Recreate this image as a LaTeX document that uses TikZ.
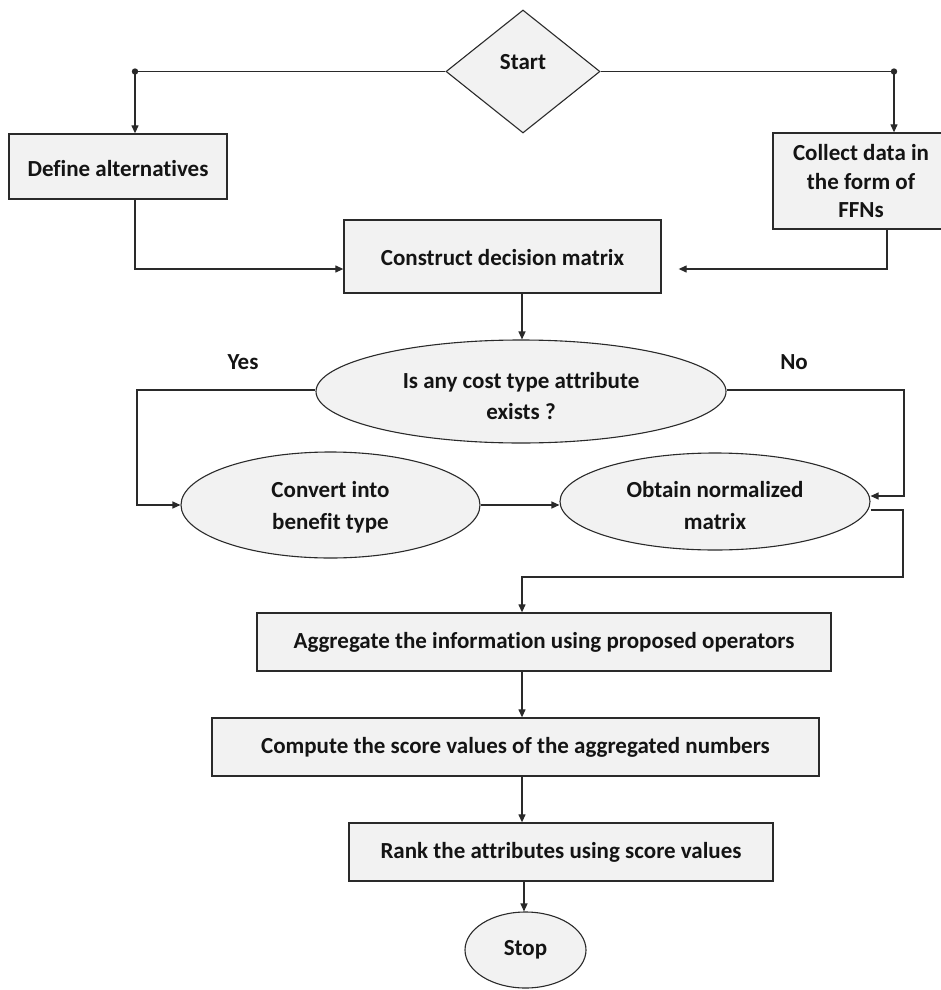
\documentclass[tikz,border=0pt]{standalone}
\usepackage{fontspec}
\setmainfont{Carlito}[Ligatures=CommonOff]
\usetikzlibrary{shapes.geometric,arrows.meta}
\definecolor{boxfill}{HTML}{F2F2F2}
\definecolor{edge}{HTML}{2A2A2A}
\newcommand{\shiftv}[2]{\raisebox{#1}[\height][\depth]{#2}}
\begin{document}
\begin{tikzpicture}[x=1pt,y=-1pt,
  every node/.style={font=\fontsize{23}{28.5}\selectfont\bfseries, text=black!92},
  boxnode/.style={draw=edge, fill=boxfill, line width=1.3pt, rectangle, inner sep=0pt, align=center},
  ellnode/.style={draw=edge, fill=boxfill, line width=1.1pt, ellipse, inner sep=0pt, align=center},
  dianode/.style={draw=edge, fill=boxfill, line width=1.1pt, diamond, inner sep=0pt},
  conn/.style={draw=edge, line width=1.2pt},
  arr/.style={conn, -{Triangle[length=8pt,width=7pt]}},
  lbl/.style={inner sep=0pt}
]
\useasboundingbox (0,0) rectangle (940,990);

% nodes
\node[dianode, minimum width=154pt, minimum height=123pt] (start) at (523,71.5) {\shiftv{9pt}{Start}};
\node[boxnode, minimum width=218pt, minimum height=65pt] (defalt) at (118,166.5) {\shiftv{-2pt}{Define alternatives}};
\node[boxnode, minimum width=176pt, minimum height=96pt] (collect) at (861,181) {\shiftv{-2.5pt}{\begin{tabular}{@{}c@{}}Collect data in\\the form of\\FFNs\end{tabular}}};
\node[boxnode, minimum width=317pt, minimum height=73pt] (construct) at (502.5,256.5) {\shiftv{-1pt}{Construct decision matrix}};
\node[ellnode, minimum width=410pt, minimum height=103pt] (isany) at (521,391.5) {\shiftv{-6.5pt}{\begin{tabular}{@{}c@{}}Is any cost type attribute\\[2.5pt]exists ?\end{tabular}}};
\node[ellnode, minimum width=299pt, minimum height=106pt] (convert) at (330.5,505) {\shiftv{-3pt}{\begin{tabular}{@{}c@{}}Convert into\\[3.5pt]benefit type\end{tabular}}};
\node[ellnode, minimum width=310pt, minimum height=97pt] (obtain) at (715,501.5) {\shiftv{-6.5pt}{\begin{tabular}{@{}c@{}}Obtain normalized\\[3.5pt]matrix\end{tabular}}};
\node[boxnode, minimum width=574pt, minimum height=58pt] (aggregate) at (544,642) {Aggregate the information using proposed operators};
\node[boxnode, minimum width=607pt, minimum height=58pt] (compute) at (515.5,747) {Compute the score values of the aggregated numbers};
\node[boxnode, minimum width=424pt, minimum height=58pt] (rank) at (561,852) {Rank the attributes using score values};
\node[ellnode, minimum width=121pt, minimum height=76pt] (stop) at (525.5,950) {Stop};

\node[lbl] (yes) at (243,362) {Yes};
\node[lbl] (no) at (794,362) {No};

% junctions
\coordinate (dL) at (135,71.5);
\coordinate (dR) at (894,71.5);
\coordinate (jA) at (135,269);
\coordinate (jB) at (887,269);
\coordinate (jY1) at (137,390);
\coordinate (jY2) at (137,505);
\coordinate (jN1) at (904,390);
\coordinate (jN2) at (904,496);
\coordinate (jO1) at (903,510);
\coordinate (jO2) at (903,577);
\coordinate (jO3) at (522,577);

% connectors
\draw[conn] (start.west) -- (dL);
\draw[conn] (start.east) -- (dR);
\fill[edge] (dL) circle (3.2pt);
\fill[edge] (dR) circle (3.2pt);
\draw[arr] (dL) -- (dL |- defalt.north);
\draw[arr] (dR) -- (dR |- collect.north);

\draw[arr] (135,0 |- defalt.south) -- (jA) -- (construct.west |- jA);
\draw[arr, shorten >=17pt] (887,0 |- collect.south) -- (jB) -- (construct.east |- jB);
\draw[arr] (522,0 |- construct.south) -- (522,0 |- isany.north);

\draw[arr] (isany.west |- jY1) -- (jY1) -- (jY2) -- (convert.west);
\draw[arr] (isany.east |- jN1) -- (jN1) -- (jN2) -- (obtain.east |- jN2);
\draw[arr] (convert.east) -- (obtain.west |- convert.east);
\draw[arr] (obtain.east |- jO1) -- (jO1) -- (jO2) -- (jO3) -- (jO3 |- aggregate.north);

\draw[arr] (522,0 |- aggregate.south) -- (522,0 |- compute.north);
\draw[arr] (522,0 |- compute.south) -- (522,0 |- rank.north);
\draw[arr] (524,0 |- rank.south) -- (524,0 |- stop.north);
\end{tikzpicture}
\end{document}
